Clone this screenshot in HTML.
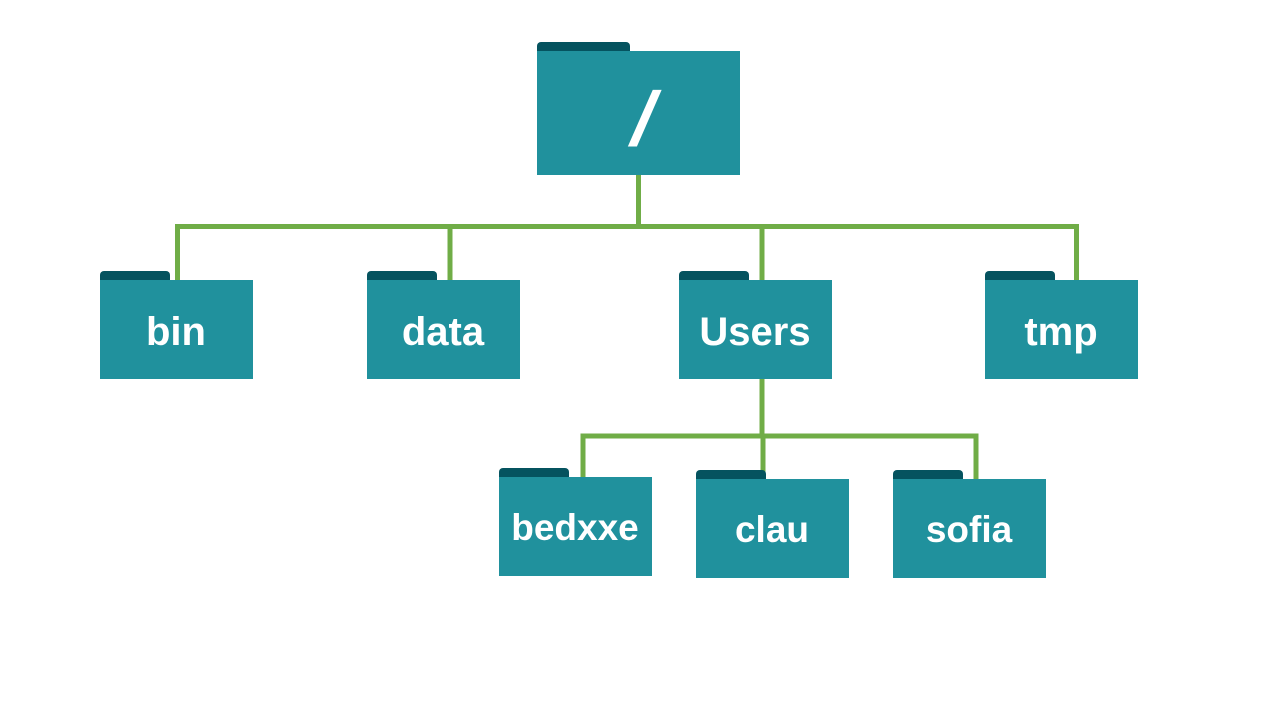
<!DOCTYPE html>
<html><head><meta charset="utf-8"><style>html,body{margin:0;padding:0;background:#fff;width:1280px;height:720px;overflow:hidden}</style></head>
<body>
<svg width="1280" height="720" xmlns="http://www.w3.org/2000/svg" font-family="Liberation Sans, sans-serif" font-weight="bold">
<g stroke="#70AD47" stroke-width="5" fill="none">
<line x1="638.5" y1="175" x2="638.5" y2="227"/>
<polyline points="177.5,280 177.5,226.5 1076.5,226.5 1076.5,280"/>
<line x1="450" y1="226" x2="450" y2="280"/>
<line x1="762" y1="226" x2="762" y2="280"/>
<line x1="762" y1="379" x2="762" y2="437"/>
<polyline points="583,477 583,436 976,436 976,479"/>
<line x1="763" y1="436" x2="763" y2="479"/>
</g>
<g fill="#05535F">
<rect x="537" y="42" width="93" height="14" rx="4"/>
<rect x="100" y="271" width="70" height="14" rx="4"/>
<rect x="367" y="271" width="70" height="14" rx="4"/>
<rect x="679" y="271" width="70" height="14" rx="4"/>
<rect x="985" y="271" width="70" height="14" rx="4"/>
<rect x="499" y="468" width="70" height="14" rx="4"/>
<rect x="696" y="470" width="70" height="14" rx="4"/>
<rect x="893" y="470" width="70" height="14" rx="4"/>
</g>
<g fill="#20919D">
<rect x="537" y="51" width="203" height="124"/>
<rect x="100" y="280" width="153" height="99"/>
<rect x="367" y="280" width="153" height="99"/>
<rect x="679" y="280" width="153" height="99"/>
<rect x="985" y="280" width="153" height="99"/>
<rect x="499" y="477" width="153" height="99"/>
<rect x="696" y="479" width="153" height="99"/>
<rect x="893" y="479" width="153" height="99"/>
</g>
<g fill="#fff" text-anchor="middle" font-size="40">
<text transform="translate(638,145) skewX(-14)" font-size="76">/</text>
<text x="176" y="345">bin</text>
<text x="443" y="345">data</text>
<text x="755" y="345">Users</text>
<text x="1061" y="345">tmp</text>
<text x="575" y="540" font-size="37">bedxxe</text>
<text x="772" y="542" font-size="37">clau</text>
<text x="969" y="542" font-size="37">sofia</text>
</g>
</svg>
</body></html>
